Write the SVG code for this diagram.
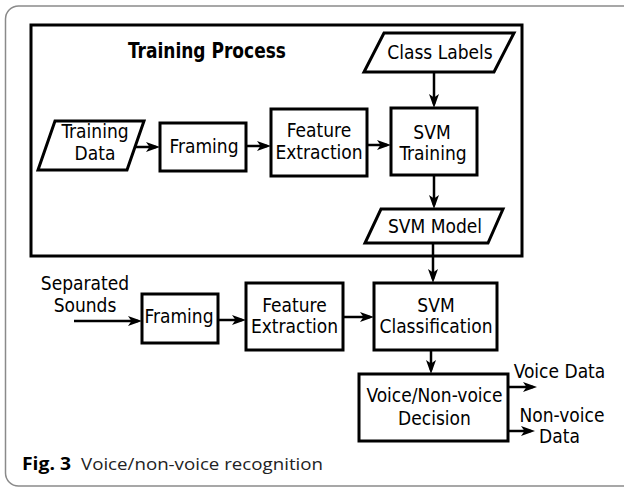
<svg xmlns="http://www.w3.org/2000/svg" width="624" height="487" viewBox="0 0 624 487">
<style>
.box{fill:#fff;stroke:#000;stroke-width:3}
.frame{fill:none;stroke:#8a8a8a;stroke-width:1.5}
.lbl{font-family:"DejaVu Sans Condensed","DejaVu Sans",sans-serif;font-stretch:condensed;font-size:19px;fill:#000;text-anchor:middle}
.ttl{font-family:"DejaVu Sans Condensed","DejaVu Sans",sans-serif;font-stretch:condensed;font-weight:bold;font-size:20.5px;fill:#000;text-anchor:middle}
.cap{font-family:"Open Sans","Noto Sans",sans-serif;font-size:17px;fill:#222}
.capb{font-family:"Open Sans","Noto Sans",sans-serif;font-size:17px;font-weight:bold;fill:#000}
.con{stroke:#000;stroke-width:2.5;fill:none;marker-end:url(#ah)}
</style>
<defs>
<marker id="ah" markerUnits="userSpaceOnUse" markerWidth="14" markerHeight="10" refX="10" refY="5" orient="auto">
<path d="M0,0 L14,5 L0,10 L3.5,5 Z" fill="#000"/>
</marker>
</defs>
<rect class="frame" x="5.5" y="6" width="650" height="480" rx="13"/>
<g id="training-process">
<rect x="31" y="25" width="491" height="231" fill="none" stroke="#000" stroke-width="3"/>
<text class="ttl" x="207" y="58" textLength="158" lengthAdjust="spacingAndGlyphs">Training Process</text>
</g>
<g id="connectors">
<line class="con" x1="434" y1="72" x2="434" y2="104"/>
<line class="con" x1="434" y1="175" x2="434" y2="205"/>
<line class="con" x1="433" y1="243" x2="433" y2="279"/>
<line class="con" x1="135" y1="147" x2="156" y2="147"/>
<line class="con" x1="246" y1="146" x2="267" y2="146"/>
<line class="con" x1="367" y1="145" x2="387" y2="145"/>
<line class="con" x1="74" y1="321" x2="138" y2="321"/>
<line class="con" x1="218" y1="320" x2="242" y2="320"/>
<line class="con" x1="343" y1="317" x2="370" y2="317"/>
<line class="con" x1="431" y1="350" x2="431" y2="370"/>
<line class="con" x1="508" y1="387" x2="533" y2="387"/>
<line class="con" x1="508" y1="431" x2="531" y2="431"/>
</g>
<g id="class-labels">
<polygon class="box" points="384,33 514,33 494,72 364,72"/>
<text class="lbl" x="440" y="59">Class Labels</text>
</g>
<g id="svm-training">
<rect class="box" x="391" y="108" width="86" height="67"/>
<text class="lbl" x="432" y="139">SVM</text>
<text class="lbl" x="433" y="160">Training</text>
</g>
<g id="svm-model">
<polygon class="box" points="381,209 503,209 488,243 365,243"/>
<text class="lbl" x="435" y="233">SVM Model</text>
</g>
<g id="training-data">
<polygon class="box" points="55,121 144,121 127,170 38,170"/>
<text class="lbl" x="95" y="138">Training</text>
<text class="lbl" x="95" y="160">Data</text>
</g>
<g id="framing-train">
<rect class="box" x="160" y="123" width="86" height="48"/>
<text class="lbl" x="204" y="153">Framing</text>
</g>
<g id="feature-train">
<rect class="box" x="271" y="109" width="96" height="67"/>
<text class="lbl" x="319" y="137">Feature</text>
<text class="lbl" x="319" y="159">Extraction</text>
</g>
<g id="separated-sounds">
<text class="lbl" x="85" y="290">Separated</text>
<text class="lbl" x="85" y="312">Sounds</text>
</g>
<g id="framing-test">
<rect class="box" x="142" y="294" width="76" height="49"/>
<text class="lbl" x="179" y="323">Framing</text>
</g>
<g id="feature-test">
<rect class="box" x="246" y="283" width="97" height="67"/>
<text class="lbl" x="294.5" y="312">Feature</text>
<text class="lbl" x="294.5" y="333">Extraction</text>
</g>
<g id="svm-classification">
<rect class="box" x="374" y="283" width="123" height="67"/>
<text class="lbl" x="436" y="312">SVM</text>
<text class="lbl" x="436" y="333">Classification</text>
</g>
<g id="decision">
<rect class="box" x="359" y="374" width="149" height="67"/>
<text class="lbl" x="434.5" y="402">Voice/Non-voice</text>
<text class="lbl" x="434.5" y="425">Decision</text>
</g>
<g id="voice-data">
<text class="lbl" x="559.5" y="378">Voice Data</text>
</g>
<g id="nonvoice-data">
<text class="lbl" x="562" y="422">Non-voice</text>
<text class="lbl" x="559.5" y="443">Data</text>
</g>
<g id="caption">
<text class="capb" x="22" y="470" textLength="49" lengthAdjust="spacingAndGlyphs">Fig. 3</text>
<text class="cap" x="81" y="470" textLength="242" lengthAdjust="spacingAndGlyphs">Voice/non-voice recognition</text>
</g>
</svg>
